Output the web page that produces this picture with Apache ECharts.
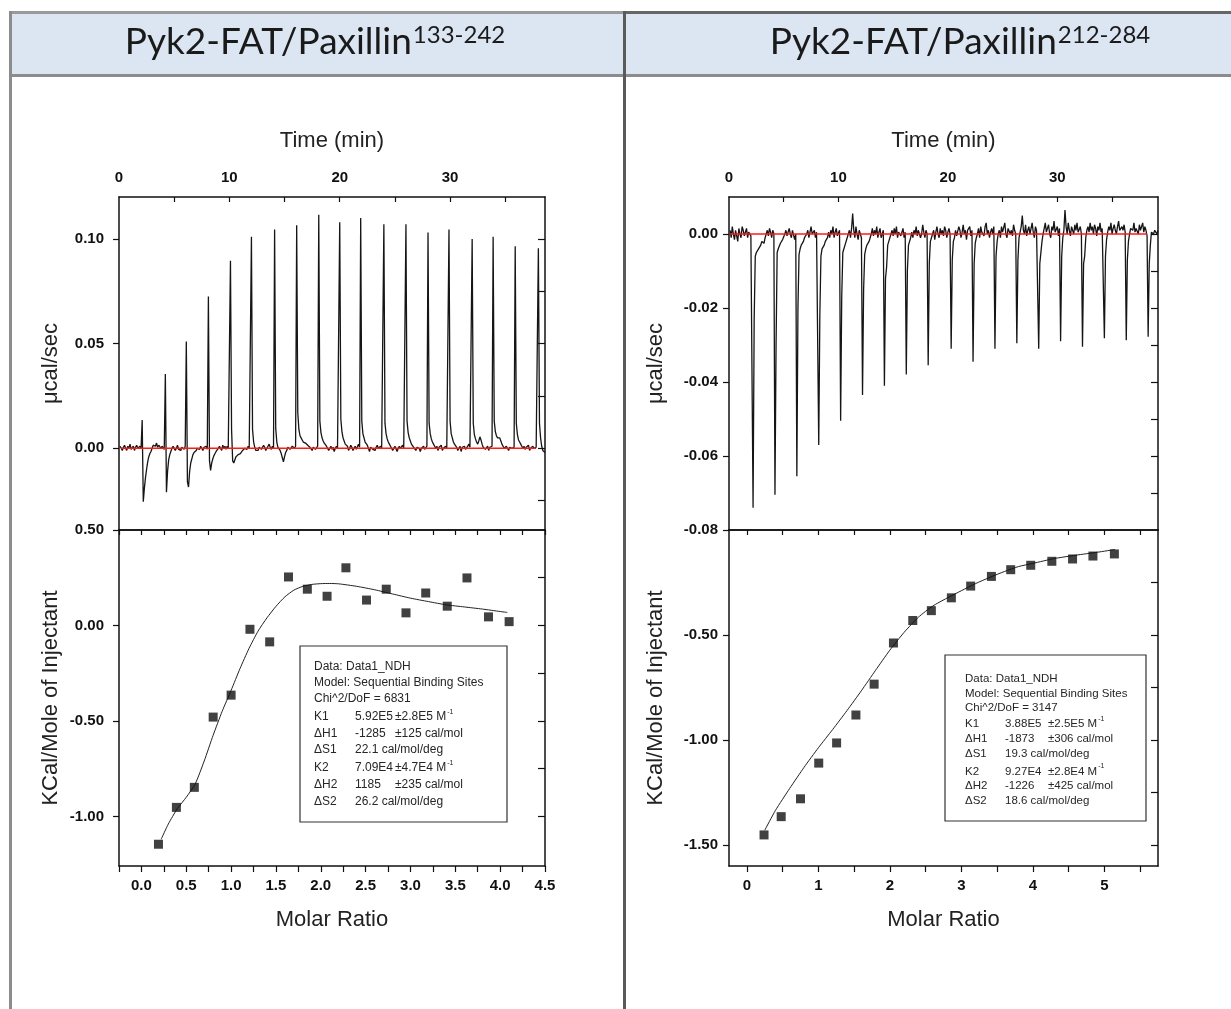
<!DOCTYPE html>
<html>
<head>
<meta charset="utf-8">
<title>Pyk2-FAT / Paxillin ITC</title>
<script src="https://cdn.jsdelivr.net/npm/echarts@6/dist/echarts.min.js"></script>
<style>
  html, body { margin: 0; padding: 0; background: #ffffff; }
  #chart { width: 1231px; height: 1009px; }
</style>
</head>
<body>
<div id="chart"></div>
<script>
// ---------------------------------------------------------------------------
// Data
// ---------------------------------------------------------------------------

// Panel titles (base text + superscript residue range)
const panelTitles = [
  ['Pyk2-FAT/Paxillin', '133-242'],
  ['Pyk2-FAT/Paxillin', '212-284']
];

// Raw thermograms: signal in 0.001 µcal/sec, sampled every 0.1 min.
// `Pre` holds the baseline before the first injection (from 0.1 min),
// each segment starts at its injection time.
const SAMPLE_STEP = 0.1;

const leftInjTimes = [2.1, 4.2, 6.1, 8.1, 10.1, 12.0, 14.1, 16.1, 18.1, 20.0,
                      21.9, 24.0, 26.0, 28.0, 29.9, 32.0, 33.9, 35.9, 38.0];
const leftPre = [1, 0, -1, 0.5, 1.5, 0, -1, 1, 0, 2, -0.5, 0, 1, -1, 0.5, 1.5, 0, -0.5, 1, 0];
const leftSegments = [
  [13.5, -25.5, -19, -14, -10, -6.5, -4, -2.5, -1.5, 0, 1.5, 2, 1, 2.5, 0.5, 1.5, 2, 0, 1, 0.5, -0.5, 0.5],
  [35.5, -21, -11, -5.5, -3, -1.5, 0, 1, 0.5, -1, 0, 1.5, -0.5, 0, -1, 0.5, 0, -0.5, 1, 0, 0.5],
  [51, -16, -18.5, -11, -7, -5, -3, -2, -1.5, -1, 0, 0.5, -0.5, 1, 0, -1, 0.5, 0, 1, -0.5, 0],
  [72.5, -6, -10.5, -7, -5, -3.5, -2.5, -1.5, -1, 0, 1, 0.5, -1, 1.5, 0, 1, -0.5, 1, 0, 0.5, 1],
  [89.5, 9, -6, -7, -5.5, -4, -4.5, -3, -3.5, -2.5, -2, -1, -1.5, 0, 0.5, -0.5, 1, 0, 0.5, -0.5, 0],
  [101, 9, 3, 0.5, -1, -1.5, -1, 0.5, 1, -0.5, 0, 1.5, 0.5, -1, 0, 1, 2, 0.5, -0.5, 1, 0],
  [104.5, 9.5, 3, 0.5, 0, -1, -2.5, -4.5, -6.5, -4, -2, -1, 0.5, 1, -0.5, 0, 1, 0.5, 0, 1, 0.5],
  [106.5, 17, 9, 6, 5, 4, 3, 3, 2.5, 2, 1.5, 1, 0.5, 0, -1, 0.5, 1, -0.5, 0, 1, 0],
  [111.5, 13, 7.5, 5, 3.5, 2.5, 2, 1, 0.5, -1, 0, 1, -0.5, 0.5, -1.5, 0, 1, 0, -0.5, 1, 0],
  [108, 14, 8, 5, 3.5, 2, 1.5, 1, -1, 0, 1.5, 0.5, -1, 0, 1, -0.5, 0, 2, 0.5, 0, 1],
  [110, 13, 7, 5, 3, 2.5, 1.5, 0, -1.5, 0.5, 1, -0.5, 0, -1, 0.5, 1.5, 0, -0.5, 1, 0, 0.5],
  [107, 12, 7, 4.5, 3, 2, 1, 0.5, -1, 0, 1, 0.5, -1.5, 0, 1, 0, -0.5, 1.5, 0, 0.5, 0],
  [107, 13, 7.5, 5, 3.5, 2, 1.5, 0.5, 0, -1, 0.5, 1, 0, -1.5, 0, 0.5, 1, -0.5, 0, 1, 0.5],
  [103, 12, 7, 4.5, 3, 2, 1, 0, 1, -1, 0.5, 0, 1.5, -1, 0, -0.5, 1, 0, 0.5, 1, 0],
  [104.5, 13, 7, 5, 3, 2, 1.5, 0.5, -1, 0, 1, -1.5, 0.5, 0, 1, -0.5, 0, 1, 2, 0.5, 0],
  [100, 12, 6.5, 4.5, 3, 2, 3.5, 5.5, 4, 2, 0.5, 1, -0.5, 0, 1, -1, 0.5, 0, 1, 0.5, 0],
  [101, 13, 8, 6, 5, 4.5, 5, 3.5, 2, 1, 0, -0.5, 1, 0, -1, 0.5, 1, 0, -0.5, 0.5, 0],
  [96.5, 12, 6.5, 4, 3, 2, 1, 0, 1, -0.5, 0.5, 0, 1.5, -1, 0, 0.5, 1, 0, -0.5, 0.5, 0],
  [95.5, 12, 5, 1, -1, -1.5, -2]
];
const leftBaseline = [[0.2, 0], [37.8, 0]];

const rightInjTimes = [2.2, 4.2, 6.2, 8.2, 10.2, 12.2, 14.2, 16.2, 18.2, 20.3,
                       22.3, 24.3, 26.3, 28.3, 30.3, 32.3, 34.3, 36.3, 38.3];
const rightPre = [1, -1, 2, 0, -1.5, 1, 0.5, -2, 1.5, 0, -1, 2, 1, -0.5, 0, 1.5, -1, 0.5, 0, -0.5, -1];
const rightSegments = [
  [-74, -23, -6, -5, -4.5, -4, -3.5, -3, -2, -1.5, -2.5, -1, 0, 1, -0.5, 1.5, 0.5, -1, 1, 0, 0.5],
  [-70.5, -30, -5, -4, -3.5, -2.5, -3, -1.5, -2, 0, 1, -0.5, 0.5, 1.5, 0, -1, 1, 0.5, -1.5, 0, 1],
  [-65.5, -20, -5.5, -4, -3, -3.5, -2, -1, -1.5, 0, 1, -1, 0.5, 2, 0, -0.5, 1, -1, 0.5, 0, -0.5],
  [-57, -22, -6, -4, -4.5, -3, -2, -2.5, -1, 0.5, -1, 1, 0, 2, -1, 0.5, 1.5, -0.5, 0, 1, 0],
  [-50.5, -17, -5, -4, -3, -2, -1, 0, 1, -1, 1.5, 5.5, 1, -1, 2, 0, -1.5, 1, 0.5, -1, 0],
  [-43.5, -15, -5.5, -4, -3, -2.5, -2, -1, 0, 1.5, -0.5, 1, 0, 2, -1, 0.5, 1.5, -1, 0, 1, 0.5],
  [-41, -12, -9, -3, -2, -1.5, 0, 1, -0.5, 1.5, 0, 2, -1, 0.5, 1, -0.5, 0, 1.5, -1, 0.5, 0],
  [-38, -10, -3, -2, -1, 0.5, -1, 1, 0, 2, -0.5, 1, 1.5, -1, 0, 2.5, 0.5, -1, 1, 0, 1],
  [-35.5, -8, -2, -1, 0, 1, -1.5, 0.5, 2, 0, -1, 1.5, 0, 1, -0.5, 2, 1, -1, 0.5, 1.5, 0],
  [-31, -7, -2, -1, 1, -0.5, 0, 2, 1, -1, 0.5, 2.5, 0, 1, -1.5, 1, 0.5, 2, -0.5, 1, 0.5],
  [-34.5, -8, -2.5, -1, 0, 1.5, -1, 2, 0.5, 1, -0.5, 2, 3, 0, 1, -1, 0.5, 1.5, 0, 2, 1],
  [-31, -6, -2, 0, 1, -1, 2, 0.5, 1, 3, 0, -1, 1.5, 2, 0, 1, -0.5, 2.5, 1, 0, 1],
  [-29.5, -7, -1, 0.5, 2, 5, 1, 0, 2.5, -0.5, 1, 2, 0, 1.5, 3, 0.5, -1, 2, 1, 0.5, 1],
  [-31, -8, -7.5, -2, 0, 1.5, 3, 0.5, 1, 2.5, 0, -1, 2, 1, 3.5, 0.5, 1, 2, -0.5, 1.5, 1],
  [-29, -6, -1, 1, 6.5, 2, 0, 3, 1, -0.5, 2, 1.5, 0, 2.5, 1, 3, 0.5, 1, 2, 0, 1],
  [-30.5, -8, -6, -1, 1, 2, 0.5, 3, 1, 2, 0, 2.5, 1.5, -0.5, 2, 1, 3, 0.5, 1.5, 1, 0.5],
  [-28.2, -6, -1.5, 0.5, 2, 1, 3, 0, 1.5, 2.5, 1, 0, 2, 3.5, 1, 0.5, 2, 1, 2.5, 0.5, 1],
  [-28.7, -7, -2, 0, 1.5, 2, 1, 3, 0.5, 1.5, 2, 0, 2.5, 1, 1.5, 3, 0.5, 2, 1, -0.5, 0],
  [-27.8, -8, -3, 0.5, 1, 0, 1, 0.5, 0, 1]
];
const rightBaseline = [[0.1, 0], [38.2, 0]];

// Integrated heats (kcal/mol of injectant) vs molar ratio
const leftMolarRatio = [0.19, 0.39, 0.59, 0.80, 1.00, 1.21, 1.43, 1.64, 1.85, 2.07,
                        2.28, 2.51, 2.73, 2.95, 3.17, 3.41, 3.63, 3.87, 4.10];
const leftHeat = [-1.146, -0.953, -0.848, -0.480, -0.365, -0.020, -0.086, 0.254, 0.190, 0.153,
                  0.302, 0.133, 0.190, 0.066, 0.170, 0.101, 0.249, 0.045, 0.020];
const leftFit = [
  [0.22, -1.12], [0.3, -1.04], [0.4, -0.96], [0.5, -0.9], [0.6, -0.83], [0.7, -0.71],
  [0.8, -0.575], [0.9, -0.45], [1.0, -0.34], [1.1, -0.225], [1.2, -0.12], [1.3, -0.03],
  [1.4, 0.04], [1.5, 0.1], [1.6, 0.15], [1.7, 0.185], [1.8, 0.205], [1.9, 0.215],
  [2.0, 0.219], [2.1, 0.22], [2.2, 0.218], [2.4, 0.205], [2.6, 0.187], [2.8, 0.165],
  [3.0, 0.143], [3.2, 0.125], [3.4, 0.108], [3.6, 0.097], [3.8, 0.086], [4.0, 0.073], [4.08, 0.068]
];

const rightMolarRatio = [0.24, 0.48, 0.75, 1.005, 1.255, 1.525, 1.78, 2.05, 2.32, 2.58,
                         2.86, 3.13, 3.42, 3.69, 3.97, 4.265, 4.555, 4.84, 5.14];
const rightHeat = [-1.452, -1.365, -1.280, -1.110, -1.014, -0.881, -0.734, -0.538, -0.431, -0.384,
                   -0.323, -0.267, -0.221, -0.189, -0.168, -0.149, -0.138, -0.124, -0.114];
const rightFit = [
  [0.25, -1.43], [0.4, -1.335], [0.6, -1.23], [0.8, -1.13], [1.0, -1.037], [1.2, -0.95],
  [1.4, -0.86], [1.6, -0.766], [1.8, -0.668], [2.0, -0.572], [2.2, -0.487], [2.4, -0.415],
  [2.6, -0.362], [2.8, -0.324], [3.0, -0.289], [3.2, -0.255], [3.4, -0.225], [3.6, -0.198],
  [3.8, -0.174], [4.0, -0.159], [4.3, -0.136], [4.6, -0.12], [4.9, -0.106], [5.15, -0.093]
];

// Tick and label positions
const timeLabels = [0, 10, 20, 30];
const timeTicks = [5, 10, 15, 20, 25, 30, 35];
const leftRateLabels = [0, 0.05, 0.1];
const leftRateTicks = [-0.025, 0, 0.025, 0.05, 0.075, 0.1];
const leftHeatLabels = [0.5, 0, -0.5, -1];
const leftHeatTicks = [-1, -0.75, -0.5, -0.25, 0, 0.25];
const leftRatioLabels = [0, 0.5, 1, 1.5, 2, 2.5, 3, 3.5, 4, 4.5];
const leftRatioTicks = [-0.25, 0, 0.25, 0.5, 0.75, 1, 1.25, 1.5, 1.75, 2, 2.25, 2.5,
                        2.75, 3, 3.25, 3.5, 3.75, 4, 4.25, 4.5];
const rightRateLabels = [0, -0.02, -0.04, -0.06, -0.08];
const rightRateTicks = [-0.07, -0.06, -0.05, -0.04, -0.03, -0.02, -0.01, 0];
const rightHeatLabels = [-0.5, -1, -1.5];
const rightHeatTicks = [-1.5, -1.25, -1, -0.75, -0.5, -0.25];
const rightRatioLabels = [0, 1, 2, 3, 4, 5];
const rightRatioTicks = [0, 0.5, 1, 1.5, 2, 2.5, 3, 3.5, 4, 4.5, 5, 5.5];

// Fit report boxes: [name, value, error, superscript]
const leftReport = [
  ['Data: Data1_NDH'],
  ['Model: Sequential Binding Sites'],
  ['Chi^2/DoF = 6831'],
  ['K1', '5.92E5', '\u00b12.8E5 M', '-1'],
  ['\u0394H1', '-1285', '\u00b1125 cal/mol'],
  ['\u0394S1', '22.1 cal/mol/deg'],
  ['K2', '7.09E4', '\u00b14.7E4 M', '-1'],
  ['\u0394H2', '1185', '\u00b1235 cal/mol'],
  ['\u0394S2', '26.2 cal/mol/deg']
];
const rightReport = [
  ['Data: Data1_NDH'],
  ['Model: Sequential Binding Sites'],
  ['Chi^2/DoF = 3147'],
  ['K1', '3.88E5', '\u00b12.5E5 M', '-1'],
  ['\u0394H1', '-1873', '\u00b1306 cal/mol'],
  ['\u0394S1', '19.3 cal/mol/deg'],
  ['K2', '9.27E4', '\u00b12.8E4 M', '-1'],
  ['\u0394H2', '-1226', '\u00b1425 cal/mol'],
  ['\u0394S2', '18.6 cal/mol/deg']
];

// ---------------------------------------------------------------------------
// Helpers
// ---------------------------------------------------------------------------
function buildTrace(pre, injTimes, segments, tEnd) {
  const pts = [];
  pre.forEach((v, i) => pts.push([+(0.1 + i * SAMPLE_STEP).toFixed(2), v / 1000]));
  segments.forEach((seg, k) => {
    const limit = k + 1 < injTimes.length ? injTimes[k + 1] - SAMPLE_STEP / 2 : tEnd + 1e-6;
    seg.forEach((v, j) => {
      const t = injTimes[k] + j * SAMPLE_STEP;
      if (t < limit) pts.push([+t.toFixed(2), v / 1000]);
    });
  });
  return pts;
}
const zip = (xs, ys) => xs.map((x, i) => [x, ys[i]]);

const measureCtx = document.createElement('canvas').getContext('2d');
function textWidth(str, font) {
  measureCtx.font = font;
  return measureCtx.measureText(str).width;
}

const INK = '#111111';
const SANS = '"Liberation Sans", Arial, sans-serif';
const tickFont = { fontFamily: SANS, fontWeight: 'bold', fontSize: 15, color: INK };
const nameFont = { fontFamily: SANS, fontSize: 22, color: '#222222' };
const frameLine = { show: true, onZero: false, lineStyle: { color: INK, width: 1.5 } };

// Axis that only draws a frame edge, optionally with ticks
function edgeAxis(gridIndex, position, min, max, ticks, inside, len) {
  return {
    type: 'value', gridIndex, position, min, max,
    axisLine: frameLine,
    axisTick: ticks ? { show: true, inside, length: len, customValues: ticks,
                        lineStyle: { color: INK, width: 1.2 } } : { show: false },
    axisLabel: { show: false },
    splitLine: { show: false }
  };
}
// Labelled axis with name
function labelAxis(gridIndex, position, min, max, labels, fmt, name, nameGap, margin, ticks, inside, len) {
  return {
    type: 'value', gridIndex, position, min, max,
    name, nameLocation: 'middle', nameGap, nameTextStyle: nameFont,
    axisLine: frameLine,
    axisTick: { show: true, inside, length: len, customValues: ticks || labels,
                lineStyle: { color: INK, width: 1.2 } },
    axisLabel: Object.assign({ show: true, customValues: labels, margin, formatter: fmt }, tickFont),
    splitLine: { show: false }
  };
}

// ---------------------------------------------------------------------------
// Layout
// ---------------------------------------------------------------------------
const L = { x: 119, w: 426 };
const R = { x: 729, w: 429 };
const TOP = { y: 197, h: 333 };
const BOT = { y: 530, h: 336 };
const LEFT_TIME_MAX = 38.6, RIGHT_TIME_MAX = 39.2;

const f0 = v => String(v);
const f1 = v => v.toFixed(1);
const f2 = v => v.toFixed(2);

const xAxes = [
  labelAxis(0, 'top', 0, LEFT_TIME_MAX, timeLabels, f0, 'Time (min)', 45, 12, timeTicks, true, 5),
  edgeAxis(0, 'bottom', 0, LEFT_TIME_MAX, null),
  labelAxis(1, 'bottom', -0.25, 4.5, leftRatioLabels, f1, 'Molar Ratio', 43, 12, leftRatioTicks, false, 6),
  edgeAxis(1, 'top', -0.25, 4.5, leftRatioTicks, true, 5),
  labelAxis(2, 'top', 0, RIGHT_TIME_MAX, timeLabels, f0, 'Time (min)', 45, 12, timeTicks, true, 5),
  edgeAxis(2, 'bottom', 0, RIGHT_TIME_MAX, null),
  labelAxis(3, 'bottom', -0.25, 5.75, rightRatioLabels, f0, 'Molar Ratio', 43, 12, rightRatioTicks, false, 6),
  edgeAxis(3, 'top', -0.25, 5.75, rightRatioTicks, true, 5)
];
const yAxes = [
  labelAxis(0, 'left', -0.039, 0.12, leftRateLabels, f2, '\u03bccal/sec', 57, 15, null, false, 6),
  edgeAxis(0, 'right', -0.039, 0.12, leftRateTicks, true, 7),
  labelAxis(1, 'left', -1.26, 0.5, leftHeatLabels, f2, 'KCal/Mole of Injectant', 57, 15, null, false, 6),
  edgeAxis(1, 'right', -1.26, 0.5, leftHeatTicks, true, 7),
  labelAxis(2, 'left', -0.08, 0.01, rightRateLabels, f2, '\u03bccal/sec', 62, 11, null, false, 6),
  edgeAxis(2, 'right', -0.08, 0.01, rightRateTicks, true, 7),
  labelAxis(3, 'left', -1.6, 0, rightHeatLabels, f2, 'KCal/Mole of Injectant', 62, 11, null, false, 6),
  edgeAxis(3, 'right', -1.6, 0, rightHeatTicks, true, 7)
];

// ---------------------------------------------------------------------------
// Decorations: header band, panel frame, titles, fit reports
// ---------------------------------------------------------------------------
const graphics = [
  { type: 'rect', shape: { x: 10, y: 12, width: 1240, height: 64 }, style: { fill: '#dce6f2' }, z: 0 },
  { type: 'line', shape: { x1: 9, y1: 12.5, x2: 624, y2: 12.5 }, style: { stroke: '#9a9a9a', lineWidth: 3 } },
  { type: 'line', shape: { x1: 624, y1: 12.5, x2: 1240, y2: 12.5 }, style: { stroke: '#666666', lineWidth: 3 } },
  { type: 'line', shape: { x1: 9, y1: 75.5, x2: 1240, y2: 75.5 }, style: { stroke: '#8c8c8c', lineWidth: 3 } },
  { type: 'line', shape: { x1: 10.5, y1: 11, x2: 10.5, y2: 1009 }, style: { stroke: '#8c8c8c', lineWidth: 3 } },
  { type: 'line', shape: { x1: 624.5, y1: 11, x2: 624.5, y2: 1009 }, style: { stroke: '#5a5a5a', lineWidth: 3 } }
];

const TITLE_FONT = '37px Lato, "Open Sans", sans-serif';
const SUP_FONT = '24px Lato, "Open Sans", sans-serif';
[[315, panelTitles[0]], [960, panelTitles[1]]].forEach(([cx, [base, sup]]) => {
  const wb = textWidth(base, TITLE_FONT);
  const ws = textWidth(sup, SUP_FONT);
  const x0 = cx - (wb + ws + 1) / 2;
  graphics.push({ type: 'text', x: x0, y: 42.5,
    style: { text: base, font: TITLE_FONT, fill: '#1a1a1a', align: 'left', verticalAlign: 'middle' } });
  graphics.push({ type: 'text', x: x0 + wb + 1, y: 35.5,
    style: { text: sup, font: SUP_FONT, fill: '#1a1a1a', align: 'left', verticalAlign: 'middle' } });
});

function reportGraphics(rows, box, cols, lineYs, size) {
  const font = size + 'px ' + SANS;
  const supFont = Math.round(size * 0.62) + 'px ' + SANS;
  const els = [{ type: 'rect', shape: { x: box.x, y: box.y, width: box.w, height: box.h },
                 style: { fill: '#ffffff', stroke: '#333333', lineWidth: 1.2 }, z: 5 }];
  const txt = (s, x, y, f) => ({ type: 'text', x, y, z: 6,
    style: { text: s, font: f || font, fill: '#262626', align: 'left', verticalAlign: 'middle' } });
  rows.forEach((row, i) => {
    const y = lineYs[i];
    if (row.length === 1) { els.push(txt(row[0], cols[0], y)); return; }
    els.push(txt(row[0], cols[0], y));
    els.push(txt(row[1], cols[1], y));
    if (row[2]) els.push(txt(row[2], cols[2], y));
    if (row[3]) els.push(txt(row[3], cols[2] + textWidth(row[2], font) + 1, y - 5, supFont));
  });
  return els;
}
graphics.push(...reportGraphics(leftReport, { x: 300, y: 646, w: 207, h: 176 }, [314, 355, 395],
  [667, 683, 699, 717, 734, 750, 768, 785, 802], 12));
graphics.push(...reportGraphics(rightReport, { x: 945, y: 655, w: 201, h: 166 }, [965, 1005, 1048],
  [679, 693.5, 708, 724, 739, 754, 771.5, 786, 801], 11.5));

// ---------------------------------------------------------------------------
// Chart
// ---------------------------------------------------------------------------
const traceStyle = { color: '#151515', width: 1.3 };
const redStyle = { color: '#ff1a1a', width: 1.5 };
const fitStyle = { color: '#222222', width: 1 };

const option = {
  animation: false,
  backgroundColor: '#ffffff',
  textStyle: { fontFamily: SANS },
  grid: [
    { left: L.x, top: TOP.y, width: L.w, height: TOP.h, containLabel: false },
    { left: L.x, top: BOT.y, width: L.w, height: BOT.h, containLabel: false },
    { left: R.x, top: TOP.y, width: R.w, height: TOP.h, containLabel: false },
    { left: R.x, top: BOT.y, width: R.w, height: BOT.h, containLabel: false }
  ],
  xAxis: xAxes,
  yAxis: yAxes,
  graphic: graphics,
  series: [
    { type: 'line', xAxisIndex: 0, yAxisIndex: 0, data: buildTrace(leftPre, leftInjTimes, leftSegments, LEFT_TIME_MAX),
      showSymbol: false, lineStyle: traceStyle, z: 2 },
    { type: 'line', xAxisIndex: 0, yAxisIndex: 0, data: leftBaseline, showSymbol: false, lineStyle: redStyle, z: 3 },
    { type: 'line', xAxisIndex: 2, yAxisIndex: 2, data: leftFit, smooth: 0.2, showSymbol: false, lineStyle: fitStyle, z: 2 },
    { type: 'scatter', xAxisIndex: 2, yAxisIndex: 2, data: zip(leftMolarRatio, leftHeat),
      symbol: 'rect', symbolSize: 9, itemStyle: { color: INK }, z: 3 },
    { type: 'line', xAxisIndex: 4, yAxisIndex: 4, data: buildTrace(rightPre, rightInjTimes, rightSegments, RIGHT_TIME_MAX),
      showSymbol: false, lineStyle: traceStyle, z: 2 },
    { type: 'line', xAxisIndex: 4, yAxisIndex: 4, data: rightBaseline, showSymbol: false, lineStyle: redStyle, z: 3 },
    { type: 'line', xAxisIndex: 6, yAxisIndex: 6, data: rightFit, smooth: 0.2, showSymbol: false, lineStyle: fitStyle, z: 2 },
    { type: 'scatter', xAxisIndex: 6, yAxisIndex: 6, data: zip(rightMolarRatio, rightHeat),
      symbol: 'rect', symbolSize: 9, itemStyle: { color: INK }, z: 3 }
  ]
};

const chart = echarts.init(document.getElementById('chart'), null, { renderer: 'canvas' });
chart.setOption(option);
</script>
</body>
</html>
